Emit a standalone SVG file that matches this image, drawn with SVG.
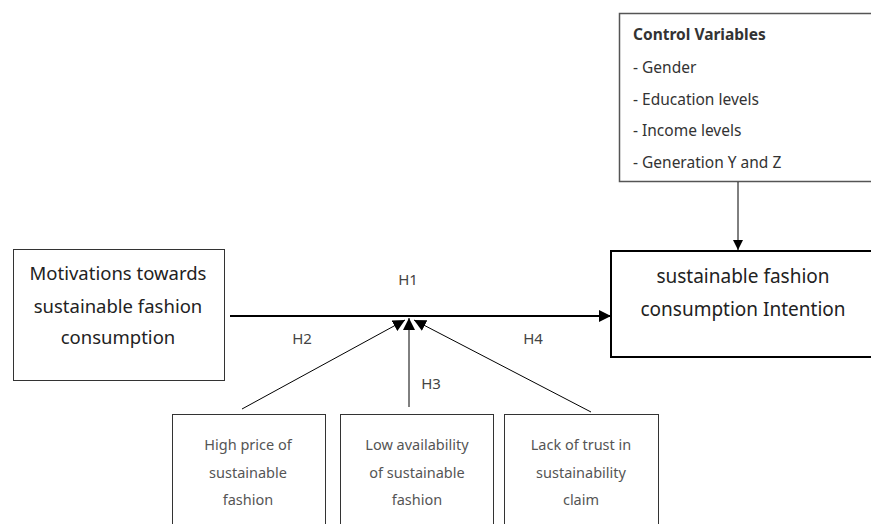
<svg xmlns="http://www.w3.org/2000/svg" width="871" height="524" viewBox="0 0 871 524">
<style>
text{font-family:"Noto Sans","Open Sans",sans-serif;}
.big{font-size:18.5px;fill:#222;text-anchor:middle;}
.big2{font-size:19px;fill:#222;text-anchor:middle;}
.small{font-size:14.5px;fill:#555;text-anchor:middle;}
.ctl{font-size:15.5px;fill:#333;}
.h{font-size:15px;fill:#444;text-anchor:middle;}
.box{fill:#fff;stroke:#333;stroke-width:1;}
.line{stroke:#000;fill:none;}
</style>
<defs>
<marker id="ah" viewBox="0 0 10 10" refX="10" refY="5" markerWidth="10" markerHeight="10" markerUnits="userSpaceOnUse" orient="auto">
<path d="M0,0 L10,5 L0,10 z" fill="#000"/>
</marker>
<marker id="ah2" viewBox="0 0 10 10" refX="10" refY="5" markerWidth="12" markerHeight="12" markerUnits="userSpaceOnUse" orient="auto">
<path d="M0,0 L10,5 L0,10 z" fill="#000"/>
</marker>
</defs>
<rect width="871" height="524" fill="#fff"/>
<g id="control">
<rect x="619.5" y="13.5" width="260" height="168" fill="#fff" stroke="#555" stroke-width="1.5"/>
<text class="ctl" x="633" y="40" font-weight="bold" fill="#222" font-size="14.5">Control Variables</text>
<text class="ctl" x="633" y="73">- Gender</text>
<text class="ctl" x="633" y="105">- Education levels</text>
<text class="ctl" x="633" y="136">- Income levels</text>
<text class="ctl" x="633" y="168">- Generation Y and Z</text>
</g>
<g id="motivations">
<rect class="box" x="13.5" y="249.5" width="211" height="131"/>
<text class="big" x="118" y="280">Motivations towards</text>
<text class="big" x="118" y="313">sustainable fashion</text>
<text class="big" x="118" y="344">consumption</text>
</g>
<g id="intention">
<rect x="611" y="251" width="270" height="106" fill="#fff" stroke="#000" stroke-width="2"/>
<text class="big2" x="743" y="283">sustainable fashion</text>
<text class="big2" x="743" y="316">consumption Intention</text>
</g>
<g id="price">
<rect class="box" x="172.5" y="414.5" width="153" height="120"/>
<text class="small" x="248" y="450">High price of</text>
<text class="small" x="248" y="478">sustainable</text>
<text class="small" x="248" y="505">fashion</text>
</g>
<g id="availability">
<rect class="box" x="340.5" y="414.5" width="153" height="120"/>
<text class="small" x="417" y="450">Low availability</text>
<text class="small" x="417" y="478">of sustainable</text>
<text class="small" x="417" y="505">fashion</text>
</g>
<g id="trust">
<rect class="box" x="504.5" y="414.5" width="154" height="120"/>
<text class="small" x="581" y="450">Lack of trust in</text>
<text class="small" x="581" y="478">sustainability</text>
<text class="small" x="581" y="505">claim</text>
</g>
<g id="connectors">
<line class="line" x1="230" y1="316" x2="611" y2="316" stroke-width="2" marker-end="url(#ah2)"/>
<line class="line" x1="738" y1="182" x2="738" y2="250" stroke-width="1" marker-end="url(#ah)"/>
<line class="line" x1="242" y1="409" x2="405" y2="320" stroke-width="1" marker-end="url(#ah2)"/>
<line class="line" x1="409" y1="407" x2="409" y2="318" stroke-width="1" marker-end="url(#ah2)"/>
<line class="line" x1="591" y1="412" x2="414" y2="320" stroke-width="1" marker-end="url(#ah2)"/>
<text class="h" x="408" y="285">H1</text>
<text class="h" x="302" y="344">H2</text>
<text class="h" x="431" y="389">H3</text>
<text class="h" x="533" y="344">H4</text>
</g>
</svg>
